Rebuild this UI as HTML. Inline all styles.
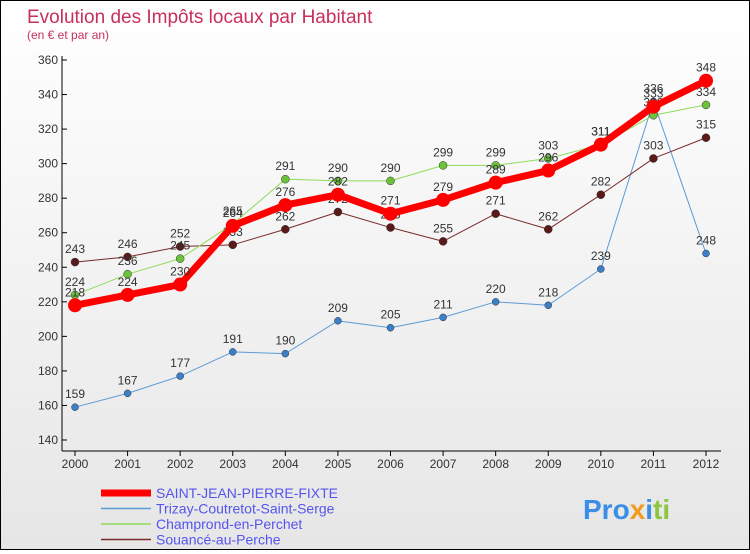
<!DOCTYPE html>
<html><head><meta charset="utf-8"><style>
body{margin:0;width:750px;height:550px;overflow:hidden;font-family:"Liberation Sans",sans-serif}
#wrap{position:relative;width:748px;height:548px;border:1px solid #000;background:linear-gradient(#fff,#e6e6e6)}
</style></head><body>
<div id="wrap">
<svg id="svg" width="748" height="548">
<text x="26" y="22" font-size="19" fill="#c8305a">Evolution des Impôts locaux par Habitant</text>
<text x="26" y="38" font-size="12" fill="#c8305a">(en € et par an)</text>
<g id="axes"></g><g id="series"></g><g id="legend"></g>
<text x="582" y="518" font-size="28" font-weight="bold"><tspan fill="#3a8ee6">Pro</tspan><tspan fill="#f29b1a">x</tspan><tspan fill="#3a8ee6">i</tspan><tspan fill="#8cc63f">ti</tspan></text>
</svg></div>
<script>
const years=[2000,2001,2002,2003,2004,2005,2006,2007,2008,2009,2010,2011,2012];
const yTicks=[140,160,180,200,220,240,260,280,300,320,340,360];
const names=["SAINT-JEAN-PIERRE-FIXTE","Trizay-Coutretot-Saint-Serge","Champrond-en-Perchet","Souancé-au-Perche"];
const sSaint=[218,224,230,264,276,282,271,279,289,296,311,333,348];
const sTrizay=[159,167,177,191,190,209,205,211,220,218,239,336,248];
const sChamp=[224,236,245,265,291,290,290,299,299,303,311,328,334];
const sSouance=[243,246,252,253,262,272,263,255,271,262,282,303,315];
const NS="http://www.w3.org/2000/svg";
const x=i=>74+i*(705-74)/(years.length-1);
const y=v=>439-(v-140)*(439-59)/220;
function mk(t,a,p){const e=document.createElementNS(NS,t);for(const k in a)e.setAttribute(k,a[k]);p.appendChild(e);return e;}
const ax=document.getElementById('axes');
let l=mk('line',{x1:61,y1:55,x2:61,y2:450,stroke:'#000'},ax);

l=mk('line',{x1:61,y1:450,x2:720,y2:450,stroke:'#000'},ax);

yTicks.forEach(v=>{
 mk('line',{x1:61,y1:y(v),x2:66,y2:y(v),stroke:'#000'},ax);
 const t=mk('text',{x:57,y:y(v)+4,'font-size':12,'text-anchor':'end',fill:'#333'},ax);t.textContent=v;
 
});
years.forEach((yr,i)=>{
 mk('line',{x1:x(i),y1:450,x2:x(i),y2:455,stroke:'#000'},ax);
 const t=mk('text',{x:x(i),y:467,'font-size':12,'text-anchor':'middle',fill:'#333'},ax);t.textContent=yr;
 
});
const defs=[[sTrizay,'#5b9bd5',1,3.5,'#3a7fc8'],[sSouance,'#7a2a2a',1,4,'#5a1a1a'],[sChamp,'#8fdc5a',1,4,'#6cc23a'],[sSaint,'#ff0000',7,7,'#ff0000']];
const order=[1,3,2,0];
const sg=document.getElementById('series');
defs.forEach((d,k)=>{
 const [data,col,w,r,pc]=d;
 const g=mk('g',{},sg);
 
 
 const p=mk('polyline',{points:data.map((v,i)=>x(i)+','+y(v)).join(' '),fill:'none',stroke:col,'stroke-width':w,'stroke-linejoin':'round'},g);
 
 data.forEach((v,i)=>{
  const c=mk('circle',{cx:x(i),cy:y(v),r:r,fill:pc,stroke:w>1?'none':'#333','stroke-width':0.5},g);
  
  const t=mk('text',{x:x(i),y:y(v)-9,'font-size':12,'text-anchor':'middle',fill:'#333'},g);t.textContent=v;
  
 });
});
const lg=document.getElementById('legend');
const lc=['#ff0000','#5b9bd5','#8fdc5a','#7a2a2a'],lw=[7,1.5,1.5,1.5];
names.forEach((n,i)=>{
 const yy=492+i*15.5;
 const li=mk('line',{x1:100,y1:yy,x2:150,y2:yy,stroke:lc[i],'stroke-width':lw[i]},lg);
 
 const t=mk('text',{x:155,y:yy+5,'font-size':14,fill:'#5555ee'},lg);t.textContent=n;
 
});
</script></body></html>
